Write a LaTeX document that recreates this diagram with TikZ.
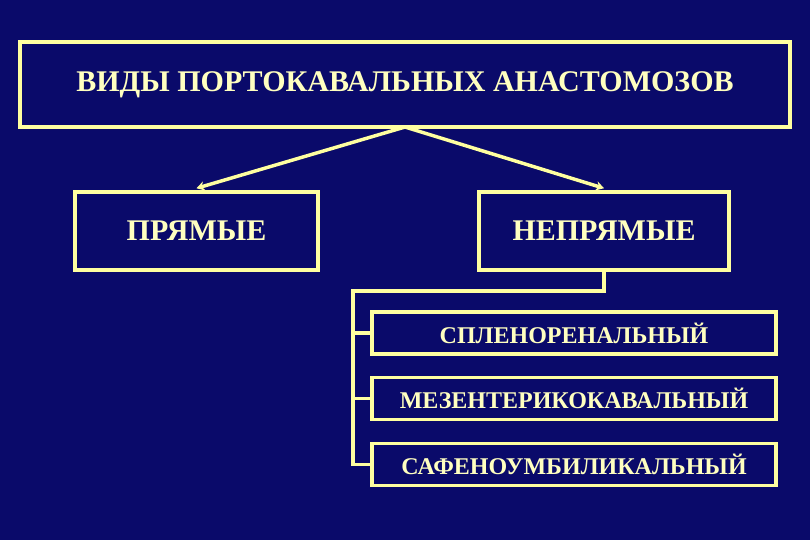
\documentclass[tikz,border=0pt]{standalone}
\usepackage{fontspec}
\setmainfont{Liberation Serif}
\usetikzlibrary{arrows.meta}
\definecolor{bg}{HTML}{0A0A6A}
\definecolor{ln}{HTML}{FFFFA0}
\definecolor{tx}{HTML}{FFFFC0}
\tikzset{
  box/.style={draw=ln, line width=2.6pt, text=tx, inner sep=0pt},
  bigtext/.style={font=\bfseries\fontsize{22.5}{24}\selectfont},
  smalltext/.style={font=\bfseries\fontsize{18}{20}\selectfont},
  conn/.style={draw=ln, line width=2.6pt},
}
\begin{document}
\begin{tikzpicture}[x=0.75pt,y=-0.75pt]
\fill[bg] (0,0) rectangle (810,540);
\useasboundingbox (0,0) rectangle (810,540);
\node[box, bigtext, minimum width=770*0.75pt, minimum height=85*0.75pt] (top) at (405,84.5) {ВИДЫ ПОРТОКАВАЛЬНЫХ АНАСТОМОЗОВ};
\node[box, bigtext, minimum width=243*0.75pt, minimum height=78*0.75pt] (pr) at (196.5,231) {ПРЯМЫЕ};
\node[box, bigtext, minimum width=250*0.75pt, minimum height=78*0.75pt] (np) at (604,231) {НЕПРЯМЫЕ};
\node[box, smalltext, minimum width=404*0.75pt, minimum height=42*0.75pt] (s1) at (574,333) {СПЛЕНОРЕНАЛЬНЫЙ};
\node[box, smalltext, minimum width=404*0.75pt, minimum height=42*0.75pt] (s2) at (574,398.5) {МЕЗЕНТЕРИКОКАВАЛЬНЫЙ};
\node[box, smalltext, minimum width=404*0.75pt, minimum height=42*0.75pt] (s3) at (574,464.5) {САФЕНОУМБИЛИКАЛЬНЫЙ};
\coordinate (apex) at (405,127);
\draw[conn, -{Stealth[length=6pt,width=7pt]}] (apex) -- ([yshift=2*0.75pt]pr.north);
\draw[conn, -{Stealth[length=6pt,width=7pt]}] (apex) -- ([yshift=2*0.75pt]np.north);
\coordinate (b1) at (604,291);
\coordinate (b2) at (353,291);
\draw[conn] (np.south) -- (b1) -- (b2) |- (s3.west);
\draw[conn] (b2 |- s1.west) -- (s1.west);
\draw[conn] (b2 |- s2.west) -- (s2.west);
\end{tikzpicture}
\end{document}
